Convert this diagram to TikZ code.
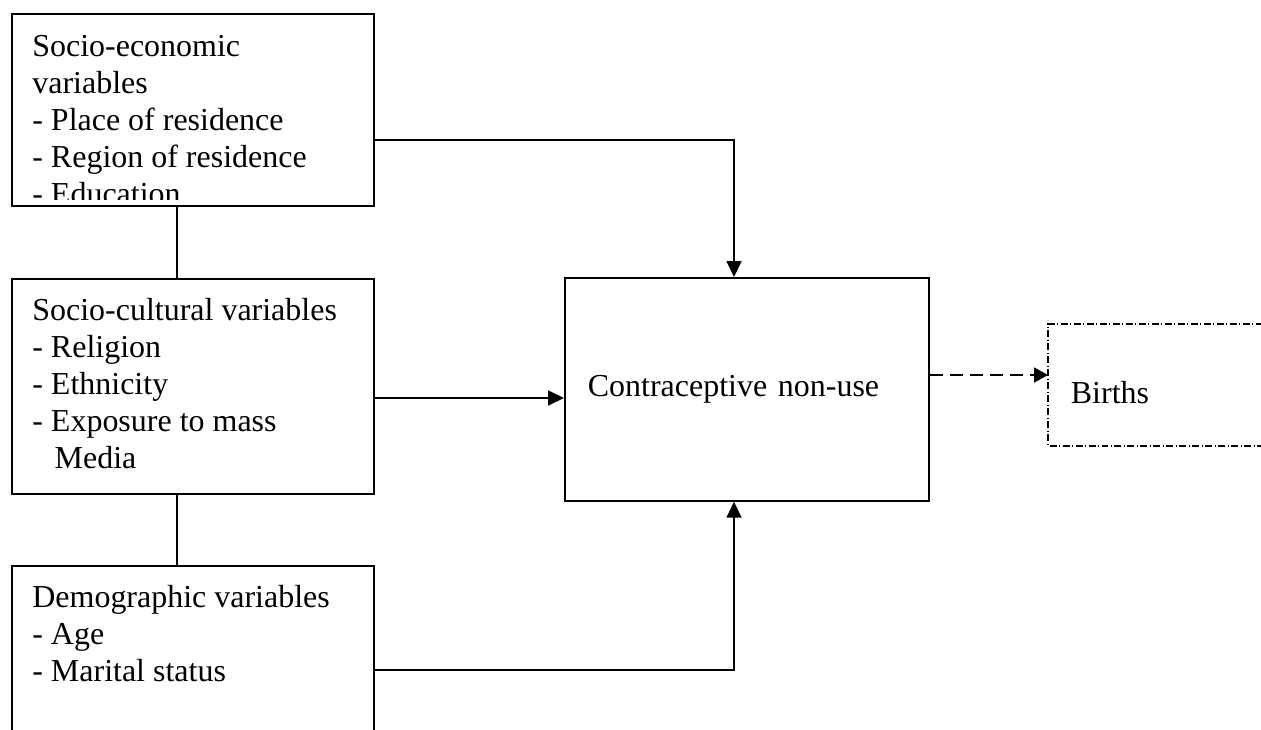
\documentclass[tikz,border=0pt]{standalone}
\usepackage{fontspec}
\setmainfont{Liberation Serif}
\usetikzlibrary{arrows.meta}

\begin{document}
\begin{tikzpicture}[x=0.02cm,y=-0.02cm,
    every node/.style={inner sep=0pt,font=\fontsize{18.2}{21}\selectfont},
    frame/.style={rectangle,draw,line width=1pt,anchor=north west,minimum width=7.24cm},
    list/.style={anchor=north west,align=left},
    link/.style={line width=1pt},
    arr/.style={line width=1pt,-{Triangle[length=0.32cm,width=0.3cm]}},
    dasharr/.style={line width=1pt,dash pattern=on 0.26cm off 0.14cm,-{Triangle[length=0.28cm,width=0.3cm]}},
    dashdot/.style={line width=1pt,dash pattern=on 0.14cm off 0.05cm on 0.02cm off 0.05cm}]
    %
    \useasboundingbox (0,0) rectangle (1261,730);
    %
    \node[frame,minimum height=3.84cm] (econ) at (11,13) {};
    \node[frame,minimum height=4.3cm] (soc) at (11,278) {};
    \node[frame,minimum height=3.9cm] (demo) at (11,565) {};

    \begin{scope}
    \clip (econ.north west) rectangle ([shift={(0,-7)}]econ.south east);
    \node[list] (econtxt) at ([shift={(21,22)}]econ.north west) {Socio-economic\\variables\\- Place of residence\\- Region of residence\\- Education};
    \end{scope}
    \node[list] (soctxt) at ([shift={(21,20)}]soc.north west) {Socio-cultural variables\\- Religion\\- Ethnicity\\- Exposure to mass\\\hspace*{0.7em}Media};
    \node[list] (demotxt) at ([shift={(21,20)}]demo.north west) {Demographic variables\\- Age\\- Marital status};

    \node[frame,minimum width=7.28cm,minimum height=4.46cm,inner xsep=0.46cm,text width=6.36cm,align=left] (ctr) at (564,277) {Contraceptive non-use};
    \node[frame,draw=none,minimum width=5.04cm,minimum height=2.4cm,inner xsep=0.44cm,text width=4.16cm,text height=21.5pt,align=left] (births) at (1048,324) {Births};
    \draw[dashdot] (births.north east) -- (births.north west) -- (births.south west) -- (births.south east);
    %
    \coordinate (spine) at (177,0);
    \coordinate (econbend) at (734,140);
    \coordinate (socin) at (564,398);
    \coordinate (demobend) at (734,670);
    \coordinate (birthsin) at (1048,375);
    %
    \draw[link] (econ.south -| spine) -- (soc.north -| spine);
    \draw[link] (soc.south -| spine) -- (demo.north -| spine);
    \draw[arr] (econ.east |- econbend) -- (econbend) -- (ctr.north -| econbend);
    \draw[arr] (soc.east |- socin) -- (ctr.west |- socin);
    \draw[arr] (demo.east |- demobend) -- (demobend) -- (ctr.south -| demobend);
    \draw[dasharr] (ctr.east |- birthsin) -- (births.west |- birthsin);
    %
\end{tikzpicture}
\end{document}
